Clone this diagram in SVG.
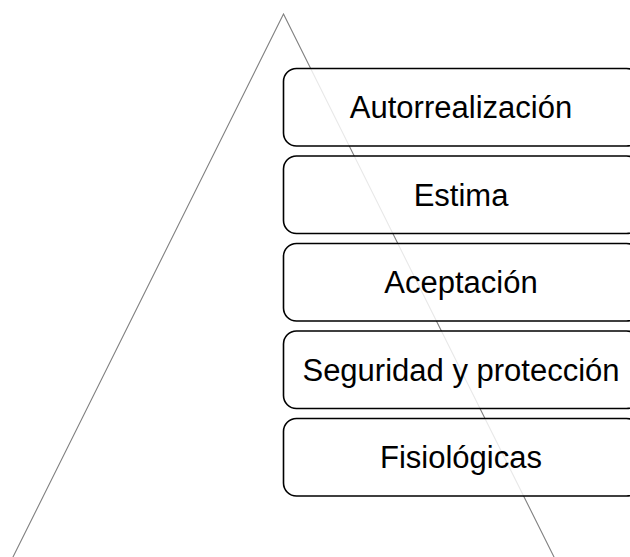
<svg xmlns="http://www.w3.org/2000/svg" width="630" height="557" viewBox="0 0 630 557">
<style>
.box{fill:#ffffff;fill-opacity:0.82;stroke:#000000;stroke-width:1.6}
.lbl{font-family:"Liberation Sans",Arial,sans-serif;font-size:31px;fill:#000000;text-anchor:middle}
</style>
<rect width="630" height="557" fill="#ffffff"/>
<g id="pyramid">
<polygon points="283.5,14 12,559 555,559" fill="#ffffff" stroke="#808080" stroke-width="1.1"/>
</g>
<g id="connectors"></g>
<g id="n1"><rect class="box" x="283.5" y="68.5" width="356" height="77.5" rx="13"/><text class="lbl" x="461" y="118">Autorrealización</text></g>
<g id="n2"><rect class="box" x="283.5" y="156" width="356" height="77.5" rx="13"/><text class="lbl" x="461" y="205.5">Estima</text></g>
<g id="n3"><rect class="box" x="283.5" y="243.5" width="356" height="77.5" rx="13"/><text class="lbl" x="461" y="293">Aceptación</text></g>
<g id="n4"><rect class="box" x="283.5" y="331" width="356" height="77.5" rx="13"/><text class="lbl" x="461" y="381">Seguridad y protección</text></g>
<g id="n5"><rect class="box" x="283.5" y="418.5" width="356" height="77.5" rx="13"/><text class="lbl" x="461" y="467.5">Fisiológicas</text></g>
</svg>
